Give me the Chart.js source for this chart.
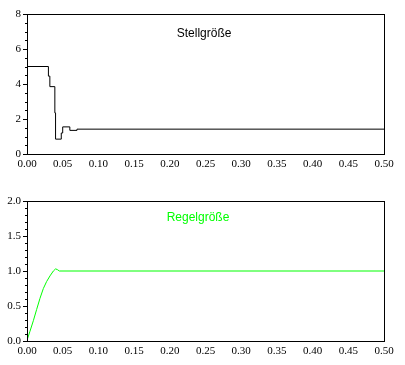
<!DOCTYPE html>
<html>
<head>
<meta charset="utf-8">
<script src="https://cdn.jsdelivr.net/npm/chart.js@4/dist/chart.umd.min.js"></script>
<style>
html,body{margin:0;padding:0;background:#fff;overflow:hidden;width:405px;height:365px;}
.wrap{position:absolute;left:0;width:405px;height:178px;}
canvas{display:block;}
</style>
</head>
<body>
<div class="wrap" style="top:0px"><canvas id="c1" width="405" height="178"></canvas></div>
<div class="wrap" style="top:187px"><canvas id="c2" width="405" height="178"></canvas></div>
<script>
// ---- data ----
const xTickLabels = ["0.00","0.05","0.10","0.15","0.20","0.25","0.30","0.35","0.40","0.45","0.50"];
// Stellgröße (control signal), step-wise values holding from each time
const stellT = [0, 0.030, 0.032, 0.039, 0.040, 0.048, 0.050, 0.060, 0.070, 0.5];
const stellU = [5.0, 4.45, 3.85, 2.35, 0.85, 1.2, 1.55, 1.35, 1.42, 1.42];
// Regelgröße (controlled variable)
const regelT = [0, 0.0042, 0.0089, 0.0135, 0.0182, 0.0229, 0.0275, 0.0322, 0.0369, 0.0401, 0.0425, 0.0453, 0.5];
const regelY = [0.01, 0.14, 0.29, 0.45, 0.61, 0.75, 0.85, 0.93, 1.0, 1.03, 1.02, 1.0, 1.0];
const topYTicks = ["0","2","4","6","8"];
const botYTicks = ["0.0","0.5","1.0","1.5","2.0"];

const serif = "'Liberation Serif', 'DejaVu Serif', serif";
const sans = "'Liberation Sans', Arial, sans-serif";

const framePlugin = {
  id: 'frame',
  afterDraw(chart, args, opts) {
    const ctx = chart.ctx, a = chart.chartArea;
    const L = Math.round(a.left) + 0.5, R = Math.round(a.right) + 0.5;
    const T = Math.round(a.top) + 0.5, B = Math.round(a.bottom) + 0.5;
    ctx.save();
    ctx.strokeStyle = '#000';
    ctx.lineWidth = 1;
    ctx.strokeRect(L, T, R - L, B - T);
    // minor ticks on y axis
    const ys = chart.scales.y;
    ctx.beginPath();
    for (let v = ys.min; v <= ys.max + 1e-9; v += opts.minor) {
      const p = Math.round(ys.getPixelForValue(v)) + 0.5;
      ctx.moveTo(L - 2.5, p);
      ctx.lineTo(L, p);
    }
    ctx.stroke();
    // in-plot title
    ctx.fillStyle = opts.color;
    ctx.font = '12px ' + sans;
    ctx.textAlign = 'center';
    ctx.textBaseline = 'middle';
    ctx.fillText(opts.text, chart.scales.x.getPixelForValue(opts.tx), ys.getPixelForValue(opts.ty));
    ctx.restore();
  }
};

function makeChart(id, ts, vs, color, stepped, yMax, yStep, yLabels, minor, title, tx, ty) {
  const pts = ts.map((t, i) => ({x: t, y: vs[i]}));
  return new Chart(document.getElementById(id), {
    type: 'line',
    data: { datasets: [{ data: pts, borderColor: color, borderWidth: 1, pointRadius: 0, fill: false, stepped: stepped, tension: 0 }] },
    plugins: [framePlugin],
    options: {
      responsive: false,
      animation: false,
      events: [],
      layout: { padding: { left: 0, right: 21, top: 14, bottom: 0 } },
      plugins: {
        legend: { display: false },
        tooltip: { enabled: false },
        frame: { text: title, color: color, tx: tx, ty: ty, minor: minor }
      },
      scales: {
        x: {
          type: 'linear', min: 0, max: 0.5,
          afterFit(s) { s.height = 24; },
          grid: { display: true, drawOnChartArea: false, drawTicks: false, color: '#000' },
          border: { display: true, color: '#000' },
          ticks: {
            stepSize: 0.05, autoSkip: false, maxRotation: 0, padding: 4,
            color: '#000', font: { family: serif, size: 11 },
            callback: (v) => { const i = Math.round(v / 0.05); return xTickLabels[i] !== undefined && Math.abs(v - i*0.05) < 1e-6 ? xTickLabels[i] : ''; }
          }
        },
        y: {
          type: 'linear', min: 0, max: yMax,
          afterFit(s) { s.width = 27; },
          grid: { display: true, drawOnChartArea: false, drawTicks: true, tickLength: 4, color: '#000' },
          border: { display: true, color: '#000' },
          ticks: {
            stepSize: yStep, autoSkip: false, padding: 2,
            color: '#000', font: { family: serif, size: 11 },
            callback: (v) => { const i = Math.round(v / yStep); return Math.abs(v - i*yStep) < 1e-6 ? yLabels[i] : ''; }
          }
        }
      }
    }
  });
}

makeChart('c1', stellT, stellU, '#000000', 'before', 8, 2, topYTicks, 0.5, 'Stellgröße', 0.248, 6.86);
makeChart('c2', regelT, regelY, '#00ff00', false, 2, 0.5, botYTicks, 0.1, 'Regelgröße', 0.2395, 1.76);
</script>
</body>
</html>
